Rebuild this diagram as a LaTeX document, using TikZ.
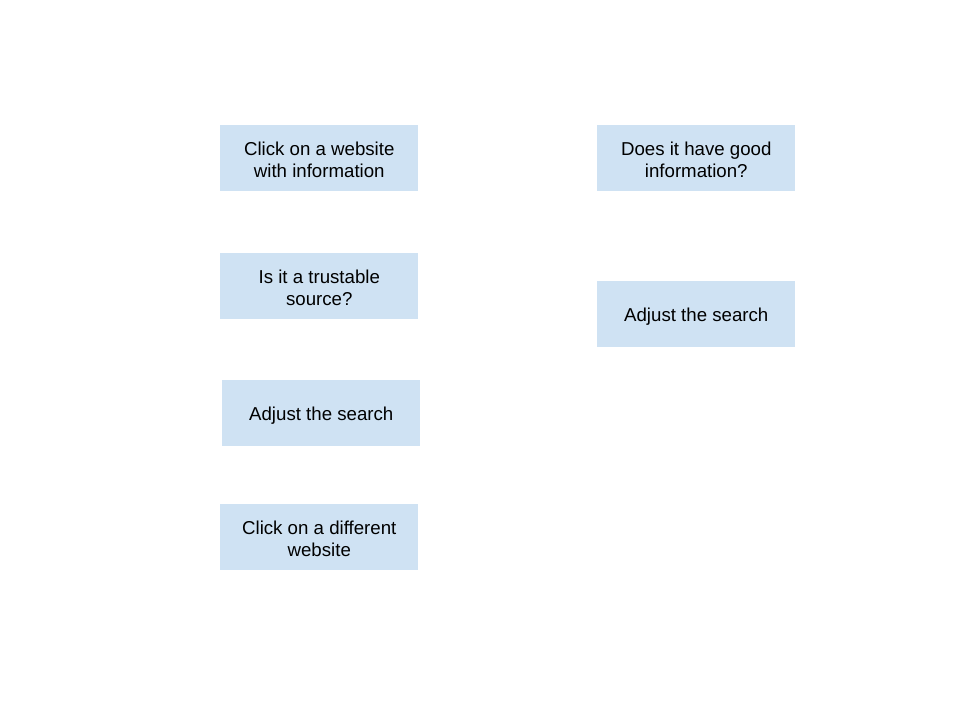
\documentclass[tikz,border=0pt]{standalone}
\usepackage{fontspec}
\setmainfont{Liberation Sans}
\definecolor{boxblue}{HTML}{CFE2F3}
\begin{document}
\begin{tikzpicture}[x=0.75pt,y=-0.75pt,
  stepbox/.style={fill=boxblue, draw=none, minimum width=148.5pt, minimum height=49.5pt,
    inner sep=0pt, anchor=north west},
  steptext/.style={inner sep=0pt, align=center, font=\fontsize{14pt}{16.5pt}\selectfont, yshift=-1.5pt}]
\useasboundingbox (0,0) rectangle (960,720);
\node[stepbox] (a) at (220,125) {};
\node[steptext] (at) at (a.center) {Click on a website\\with information};
\node[stepbox] (b) at (220,253) {};
\node[steptext] (bt) at (b.center) {Is it a trustable\\source?};
\node[stepbox] (c) at (222,380) {};
\node[steptext] (ct) at (c.center) {Adjust the search};
\node[stepbox] (d) at (220,504) {};
\node[steptext] (dt) at (d.center) {Click on a different\\website};
\node[stepbox] (e) at (597,125) {};
\node[steptext] (et) at (e.center) {Does it have good\\information?};
\node[stepbox] (f) at (597,281) {};
\node[steptext] (ft) at (f.center) {Adjust the search};
\end{tikzpicture}
\end{document}
